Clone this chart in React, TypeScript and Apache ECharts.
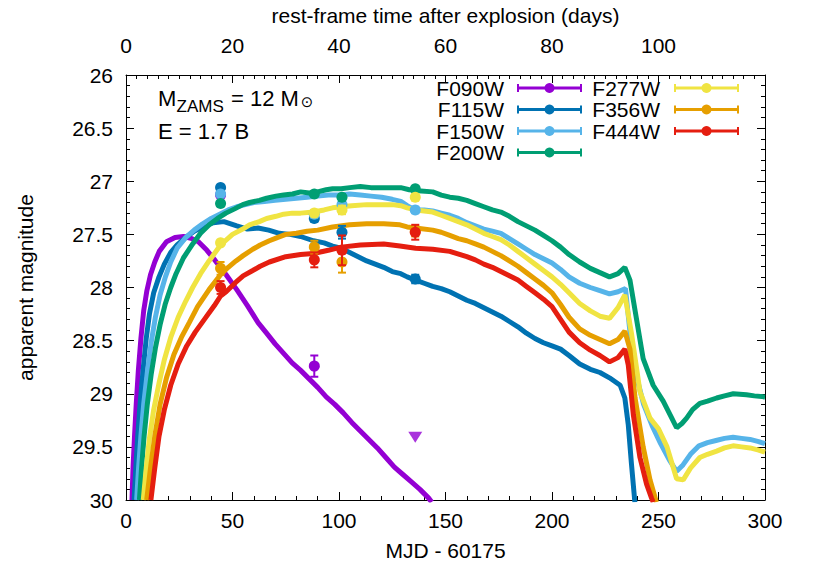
import React, { useEffect, useRef } from "react";
import * as echarts from "echarts";

// ---------- data ----------
const filters = ["F090W", "F115W", "F150W", "F200W", "F277W", "F356W", "F444W"];
const colors = ["#9400D3", "#0072B2", "#56B4E9", "#009E73", "#F0E442", "#E69F00", "#E51E10"];

const xTicks = [0, 50, 100, 150, 200, 250, 300];
const topTicks = [0, 20, 40, 60, 80, 100];
const yTicks = [26, 26.5, 27, 27.5, 28, 28.5, 29, 29.5, 30];

// model light curves [MJD-60175, mag]
const f090wModel = [[2.8,30],[3.3,29.7],[4,29.4],[4.8,29.1],[5.8,28.78],[7,28.48],[8.3,28.22],[9.8,28.03],[11.5,27.88],[13.5,27.76],[15.6,27.66],[19,27.57],[23,27.53],[27,27.52],[31,27.54],[34,27.57],[38,27.65],[42,27.75],[47,27.88],[52,28.02],[57,28.17],[62,28.33],[66,28.43],[70,28.53],[74,28.62],[78,28.71],[82,28.78],[86,28.86],[90,28.94],[94,29.03],[98,29.1],[102,29.18],[106,29.27],[110,29.35],[114,29.43],[118,29.51],[122,29.6],[126,29.69],[130,29.76],[134,29.83],[138,29.9],[142,29.98],[143.5,30.02]];
const f115wModel = [[3.8,30],[4.6,29.7],[5.5,29.4],[6.6,29.1],[8,28.78],[9.5,28.48],[11,28.25],[13,28.05],[15.5,27.9],[18,27.78],[21,27.67],[24,27.6],[28,27.53],[32,27.47],[36,27.43],[41,27.39],[46,27.38],[52,27.42],[57,27.45],[62,27.44],[67,27.46],[72,27.49],[77,27.5],[82,27.52],[88,27.56],[93,27.58],[97,27.61],[101,27.63],[105,27.67],[109,27.71],[113,27.75],[117,27.78],[121,27.81],[125,27.85],[129,27.87],[132,27.9],[136,27.93],[140,27.96],[144,27.99],[148,28.01],[152,28.04],[156,28.08],[160,28.12],[164,28.15],[168,28.19],[172,28.23],[176,28.27],[180,28.32],[184,28.37],[188,28.43],[192,28.48],[196,28.52],[200,28.55],[204,28.58],[208,28.64],[213,28.72],[218,28.77],[222.5,28.8],[227,28.85],[232,28.92],[234.2,29.04],[235.8,29.29],[237.3,29.66],[238.9,30.02]];
const f150wModel = [[5,30],[5.9,29.7],[7,29.4],[8.3,29.1],[10,28.8],[11.8,28.52],[13.8,28.28],[16,28.07],[18.5,27.9],[21,27.76],[24,27.63],[28,27.53],[32,27.46],[36,27.4],[40,27.35],[44,27.31],[48,27.27],[52,27.24],[56,27.22],[60,27.2],[65,27.19],[70,27.18],[75,27.17],[80,27.16],[85,27.15],[90,27.14],[95,27.13],[100,27.13],[105,27.12],[110,27.13],[115,27.14],[120,27.15],[125,27.17],[129,27.19],[132,27.23],[135.5,27.27],[140,27.27],[144,27.28],[148,27.3],[152,27.32],[156,27.35],[160,27.39],[164,27.42],[168,27.45],[172,27.47],[176,27.49],[180,27.54],[184,27.59],[188,27.64],[192,27.69],[196,27.73],[200,27.77],[204,27.83],[208,27.9],[213,27.96],[218,28.0],[222.5,28.03],[227,28.06],[231,28.04],[234.5,28.01],[236.5,28.4],[239.5,28.82],[243,29.1],[247,29.3],[251,29.47],[255,29.62],[258.5,29.73],[261.5,29.67],[265,29.57],[269,29.49],[273,29.46],[277,29.44],[281,29.42],[285,29.41],[289,29.42],[293,29.43],[297,29.45],[300,29.47]];
const f200wModel = [[6.3,30],[7.3,29.7],[8.5,29.4],[10,29.1],[11.8,28.82],[13.8,28.57],[16,28.35],[18.5,28.15],[21,28.0],[23.5,27.87],[27,27.72],[31.3,27.59],[35,27.49],[39.1,27.41],[43,27.35],[46.9,27.3],[51,27.26],[54.8,27.22],[58,27.2],[62.6,27.18],[66,27.16],[70.4,27.14],[74,27.13],[78.2,27.12],[82,27.1],[86,27.11],[90,27.1],[94,27.08],[97,27.07],[101,27.07],[105,27.06],[110,27.05],[115,27.06],[120,27.06],[125,27.06],[129,27.06],[133,27.08],[137,27.09],[144,27.1],[148,27.13],[152,27.15],[156,27.16],[160,27.18],[164,27.21],[168,27.24],[172,27.27],[176,27.29],[180,27.33],[184,27.38],[188,27.42],[192,27.46],[196,27.51],[200,27.56],[204,27.62],[208,27.69],[213,27.76],[218,27.82],[222.5,27.86],[227,27.9],[231,27.87],[234.2,27.81],[236.6,27.93],[239.7,28.3],[242.8,28.67],[247.5,28.92],[252.2,29.07],[256,29.22],[258.5,29.32],[261,29.28],[263.2,29.23],[266,29.15],[269.4,29.09],[273,29.07],[277.3,29.04],[281,29.02],[285.1,29.0],[291.3,29.01],[295,29.02],[300,29.03]];
const f277wModel = [[8.1,30],[9.5,29.7],[11,29.42],[13,29.15],[15.5,28.9],[18,28.68],[21,28.47],[24.5,28.28],[28,28.13],[31.3,28.0],[35,27.87],[39,27.75],[44.4,27.6],[50,27.5],[54.8,27.45],[58,27.41],[62.6,27.38],[66,27.35],[70.4,27.33],[74,27.31],[78,27.3],[82,27.3],[88,27.29],[93,27.27],[97,27.25],[101,27.24],[106,27.23],[113,27.22],[120,27.22],[125,27.22],[129,27.23],[132,27.25],[136,27.27],[140,27.28],[144,27.29],[148,27.32],[152,27.35],[156,27.38],[160,27.41],[164,27.45],[168,27.49],[172,27.52],[176,27.55],[180,27.6],[184,27.66],[188,27.72],[192,27.78],[196,27.84],[200,27.9],[204,27.97],[208,28.05],[213,28.15],[218,28.22],[222.5,28.27],[227,28.29],[231,28.19],[234.2,28.07],[237.3,28.43],[241.3,28.98],[246,29.23],[250,29.33],[254,29.5],[258.5,29.8],[261.6,29.81],[265,29.7],[269.4,29.6],[273,29.57],[277.3,29.54],[281,29.51],[285,29.49],[289,29.5],[293,29.51],[297,29.53],[300,29.55]];
const f356wModel = [[9.7,30],[11.5,29.7],[13.5,29.4],[16,29.1],[19,28.85],[22.5,28.63],[26,28.47],[29.7,28.33],[33.6,28.18],[39,28.02],[44.4,27.88],[48,27.81],[51.6,27.75],[55,27.7],[59.5,27.64],[63,27.6],[67.3,27.56],[71,27.53],[75,27.5],[80,27.49],[85,27.47],[90,27.46],[97,27.43],[105,27.41],[113,27.4],[121,27.4],[128.6,27.41],[132,27.43],[136,27.44],[144,27.46],[148,27.48],[152,27.51],[156,27.54],[160,27.56],[164,27.59],[168,27.62],[172,27.66],[176,27.7],[180,27.75],[184,27.8],[188,27.86],[192,27.92],[196,27.98],[200,28.05],[204,28.16],[208,28.28],[213,28.39],[218,28.45],[222.5,28.49],[227,28.53],[231,28.49],[234.2,28.41],[236.6,28.58],[239,29.04],[242.8,29.5],[246,29.81],[248.3,29.97],[249,30.02]];
const f444wModel = [[11.7,30],[13.5,29.7],[15.5,29.4],[18,29.15],[21,28.92],[24.5,28.72],[28.5,28.55],[32.5,28.42],[36.8,28.3],[41.5,28.17],[44.4,28.08],[47,28.04],[51.6,27.95],[55,27.89],[59.5,27.84],[63,27.8],[67.3,27.76],[75,27.71],[82,27.69],[88,27.68],[95,27.65],[101,27.62],[110,27.6],[121,27.59],[128.6,27.61],[136,27.63],[144,27.64],[152,27.66],[160,27.71],[164,27.74],[168,27.78],[172,27.81],[176,27.85],[180,27.89],[184,27.93],[188,27.99],[192,28.05],[196,28.11],[200,28.18],[204,28.3],[208,28.42],[213,28.52],[218,28.59],[222.5,28.64],[227,28.7],[231,28.66],[234.2,28.58],[235.8,28.73],[238.2,29.2],[241.3,29.6],[244.4,29.85],[246.7,29.98],[247.5,30.02]];

// observations [MJD-60175, mag, error]
const f090wObs = [[44.4,27.13,0.02],[88.4,28.74,0.1]];
const f115wObs = [[44.4,27.06,0.02],[88.4,27.35,0.03],[101.4,27.48,0.06],[135.8,27.92,0.04]];
const f150wObs = [[44.4,27.12,0.02],[88.4,27.31,0.03],[101.4,27.22,0.04],[135.8,27.27,0.03]];
const f200wObs = [[44.4,27.21,0.02],[88.4,27.12,0.02],[101.4,27.15,0.03],[135.8,27.07,0.02]];
const f277wObs = [[44.4,27.58,0.02],[88.4,27.3,0.03],[101.4,27.27,0.04],[135.8,27.15,0.03]];
const f356wObs = [[44.4,27.82,0.06],[88.4,27.62,0.06],[101.4,27.76,0.1],[135.8,27.47,0.05]];
const f444wObs = [[44.4,28.0,0.06],[88.4,27.74,0.07],[101.4,27.65,0.14],[135.8,27.48,0.07]];
// F090W upper limit
const f090wLimit = [[135.8,29.41]];

const models = [f090wModel, f115wModel, f150wModel, f200wModel, f277wModel, f356wModel, f444wModel];
const observations = [f090wObs, f115wObs, f150wObs, f200wObs, f277wObs, f356wObs, f444wObs];

const FONT = "'Liberation Sans', Arial, Helvetica, sans-serif";
const FS = 21;

function buildLegend() {
  const items: any[] = [];
  const col = [
    { textRight: 504, x0: 518, x1: 581, rows: [0, 1, 2, 3] },
    { textRight: 660, x0: 675, x1: 738, rows: [4, 5, 6] },
  ];
  const rowY = [88, 109.5, 131, 152.5];
  col.forEach((c) => {
    c.rows.forEach((fi, r) => {
      const y = rowY[r];
      const color = colors[fi];
      items.push({
        type: "text",
        style: { text: filters[fi], x: c.textRight, y, fill: "#000", font: `${FS}px ${FONT}`, align: "right", verticalAlign: "middle" },
      });
      items.push({ type: "line", shape: { x1: c.x0, y1: y, x2: c.x1, y2: y }, style: { stroke: color, lineWidth: 3 } });
      items.push({ type: "line", shape: { x1: c.x0, y1: y - 4, x2: c.x0, y2: y + 4 }, style: { stroke: color, lineWidth: 2 } });
      items.push({ type: "line", shape: { x1: c.x1, y1: y - 4, x2: c.x1, y2: y + 4 }, style: { stroke: color, lineWidth: 2 } });
      items.push({ type: "circle", shape: { cx: (c.x0 + c.x1) / 2, cy: y, r: 5 }, style: { fill: color } });
    });
  });
  return items;
}

export default function App() {
  const ref = useRef<HTMLDivElement>(null);
  useEffect(() => {
    if (!ref.current) return;
    const chart = echarts.init(ref.current, null, { renderer: "svg" });
    const axisText = { color: "#000", fontSize: FS, fontFamily: FONT };
    const lineSeries = models.map((m, i) => ({
      type: "line",
      name: filters[i],
      data: m,
      showSymbol: false,
      symbol: "none",
      lineStyle: { color: colors[i], width: 5 },
      z: 2 + i * 0.01,
      clip: true,
    }));
    const errSeries = observations.map((o, i) => ({
      type: "custom",
      name: filters[i] + " err",
      data: o,
      encode: { x: 0, y: 1 },
      z: 4 + i * 0.01,
      clip: true,
      renderItem: (params: any, api: any) => {
        const x = api.value(0);
        const y = api.value(1);
        const e = api.value(2);
        const p1 = api.coord([x, y - e]);
        const p2 = api.coord([x, y + e]);
        const half = 4;
        const st = { stroke: colors[i], lineWidth: 2 };
        return {
          type: "group",
          children: [
            { type: "line", shape: { x1: p1[0], y1: p1[1], x2: p2[0], y2: p2[1] }, style: st },
            { type: "line", shape: { x1: p1[0] - half, y1: p1[1], x2: p1[0] + half, y2: p1[1] }, style: st },
            { type: "line", shape: { x1: p2[0] - half, y1: p2[1], x2: p2[0] + half, y2: p2[1] }, style: st },
          ],
        };
      },
    }));
    const pointSeries = observations.map((o, i) => ({
      type: "scatter",
      name: filters[i] + " obs",
      data: o.map((d) => [d[0], d[1]]),
      symbol: "circle",
      symbolSize: 11,
      itemStyle: { color: colors[i], opacity: 1 },
      z: 4 + i * 0.01 + 0.005,
    }));
    const limitSeries = {
      type: "scatter",
      name: "F090W limit",
      data: f090wLimit,
      symbol: "path://M0,0 L14,0 L7,11 Z",
      symbolSize: [14, 11],
      itemStyle: { color: colors[0] },
      z: 5,
    };

    chart.setOption({
      animation: false,
      backgroundColor: "#fff",
      textStyle: { fontFamily: FONT },
      grid: { left: 126, top: 67, right: 52, bottom: 72, containLabel: false },
      xAxis: [
        {
          type: "value",
          min: xTicks[0],
          max: xTicks[xTicks.length - 1],
          interval: 50,
          position: "bottom",
          name: "MJD - 60175",
          nameLocation: "middle",
          nameGap: 40,
          nameTextStyle: axisText,
          axisLine: { show: true, onZero: false, lineStyle: { color: "#000", width: 1 } },
          axisTick: { show: true, inside: true, length: 8, lineStyle: { color: "#000" } },
          minorTick: { show: true, splitNumber: 5, length: 4, lineStyle: { color: "#000" } },
          axisLabel: { ...axisText, margin: 10 },
          splitLine: { show: false },
        },
        {
          type: "value",
          min: topTicks[0],
          max: 120,
          interval: 20,
          position: "top",
          name: "rest-frame time after explosion (days)",
          nameLocation: "middle",
          nameGap: 49,
          nameTextStyle: axisText,
          axisLine: { show: true, onZero: false, lineStyle: { color: "#000", width: 1 } },
          axisTick: { show: true, inside: true, length: 8, lineStyle: { color: "#000" } },
          minorTick: { show: true, splitNumber: 10, length: 4, lineStyle: { color: "#000" } },
          axisLabel: { ...axisText, margin: 19, showMaxLabel: false },
          splitLine: { show: false },
        },
      ],
      yAxis: [
        {
          type: "value",
          inverse: true,
          min: yTicks[0],
          max: yTicks[yTicks.length - 1],
          interval: 0.5,
          position: "left",
          name: "apparent magnitude",
          nameLocation: "middle",
          nameGap: 90,
          nameRotate: 90,
          nameTextStyle: axisText,
          axisLine: { show: true, onZero: false, lineStyle: { color: "#000", width: 1 } },
          axisTick: { show: true, inside: true, length: 8, lineStyle: { color: "#000" } },
          minorTick: { show: true, splitNumber: 5, length: 4, lineStyle: { color: "#000" } },
          axisLabel: { ...axisText, margin: 13 },
          splitLine: { show: false },
        },
        {
          type: "value",
          inverse: true,
          min: yTicks[0],
          max: yTicks[yTicks.length - 1],
          interval: 0.5,
          position: "right",
          axisLine: { show: true, onZero: false, lineStyle: { color: "#000", width: 1 } },
          axisTick: { show: true, inside: true, length: 8, lineStyle: { color: "#000" } },
          minorTick: { show: true, splitNumber: 5, length: 4, lineStyle: { color: "#000" } },
          axisLabel: { show: false },
          splitLine: { show: false },
        },
      ],
      series: [...lineSeries, ...errSeries, ...pointSeries, limitSeries],
      graphic: [
        { type: "text", style: { text: "M", x: 158, y: 98, font: `22px ${FONT}`, fill: "#000", verticalAlign: "middle" } },
        { type: "text", style: { text: "ZAMS", x: 176.5, y: 106, font: `17px ${FONT}`, fill: "#000", verticalAlign: "middle" } },
        { type: "text", style: { text: "= 12 M", x: 231, y: 98, font: `22px ${FONT}`, fill: "#000", verticalAlign: "middle" } },
        { type: "text", style: { text: "⊙", x: 307, y: 102, font: `15px 'DejaVu Sans', ${FONT}`, fill: "#000", align: "center", verticalAlign: "middle" } },
        { type: "text", style: { text: "E = 1.7 B", x: 158, y: 131.5, font: `22px ${FONT}`, fill: "#000", verticalAlign: "middle" } },
        ...buildLegend(),
      ],
    });
    return () => chart.dispose();
  }, []);
  return (
    <div
      ref={ref}
      style={{ position: "fixed", left: 0, top: 0, width: 817, height: 572, background: "#fff" }}
    />
  );
}
